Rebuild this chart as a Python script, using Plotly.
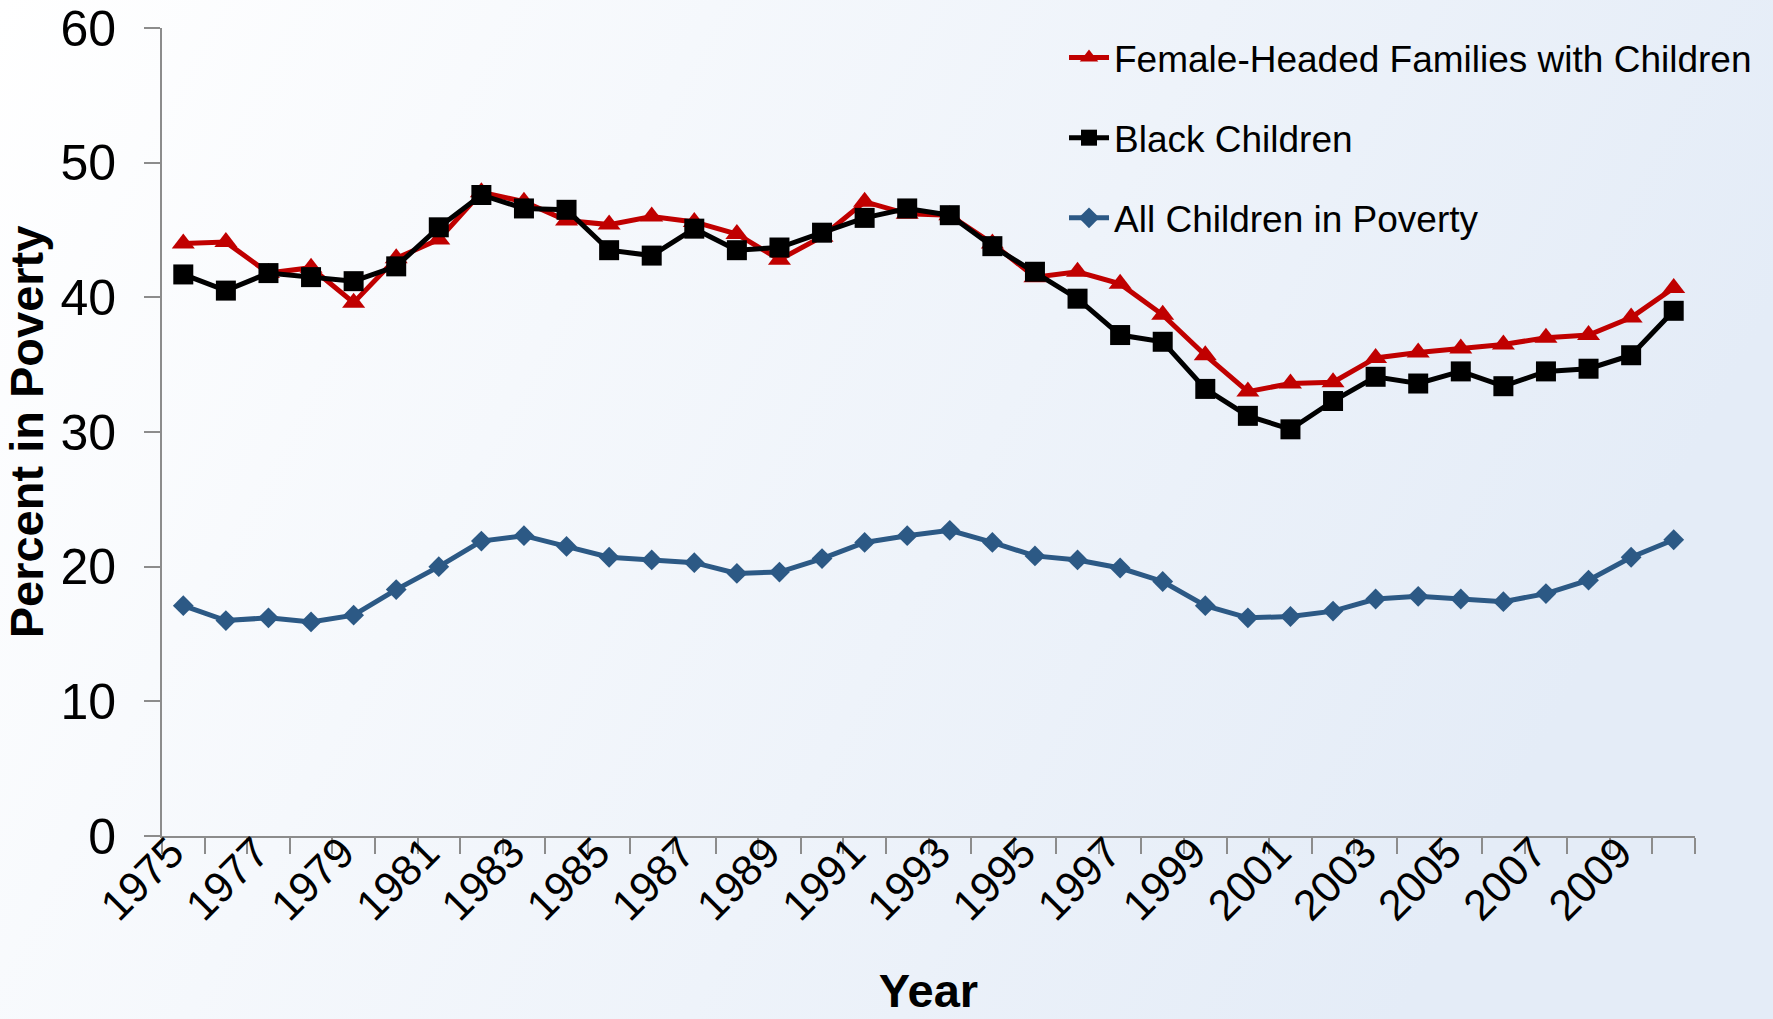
import base64
import plotly.graph_objects as go

# ---- data ----
years = list(range(1975, 2011))
female_headed = [44.0, 44.1, 41.8, 42.2, 39.6, 42.9, 44.3, 47.8, 47.1, 45.7, 45.4, 46.0,
                 45.6, 44.7, 42.8, 44.5, 47.1, 46.2, 46.1, 44.0, 41.5, 41.9, 41.0, 38.7,
                 35.7, 33.0, 33.6, 33.7, 35.5, 35.9, 36.2, 36.5, 37.0, 37.2, 38.5, 40.7]
black_children = [41.7, 40.5, 41.8, 41.5, 41.2, 42.3, 45.2, 47.6, 46.6, 46.5, 43.5, 43.1,
                  45.1, 43.5, 43.7, 44.8, 45.9, 46.6, 46.1, 43.8, 41.9, 39.9, 37.2, 36.7,
                  33.2, 31.2, 30.2, 32.3, 34.1, 33.6, 34.5, 33.4, 34.5, 34.7, 35.7, 39.0]
all_children = [17.1, 16.0, 16.2, 15.9, 16.4, 18.3, 20.0, 21.9, 22.3, 21.5, 20.7, 20.5,
                20.3, 19.5, 19.6, 20.6, 21.8, 22.3, 22.7, 21.8, 20.8, 20.5, 19.9, 18.9,
                17.1, 16.2, 16.3, 16.7, 17.6, 17.8, 17.6, 17.4, 18.0, 19.0, 20.7, 22.0]
tick_years = list(range(1975, 2010, 2))
tick_labels = [str(y) for y in tick_years]

W, H = 1773, 1019
ML, MR, MT, MB = 162, 78, 28, 183
PW, PH = W - ML - MR, H - MT - MB

FONT = "Arial, 'Liberation Sans', sans-serif"

fig = go.Figure()
fig.add_trace(go.Scatter(
    x=years, y=female_headed, mode="lines+markers",
    name="Female-Headed Families with Children", legendgroup="a",
    line=dict(color="#C00000", width=5),
    marker=dict(symbol="triangle-up", size=20, color="#C00000"),
))
fig.add_trace(go.Scatter(
    x=years, y=black_children, mode="lines+markers",
    name="Black Children", legendgroup="b",
    line=dict(color="#000000", width=5),
    marker=dict(symbol="square", size=20, color="#000000"),
))
fig.add_trace(go.Scatter(
    x=years, y=all_children, mode="lines+markers",
    name="All Children in Poverty", legendgroup="c",
    line=dict(color="#2C5985", width=5),
    marker=dict(symbol="diamond", size=16, color="#2C5985"),
))

svg = ("<svg xmlns='http://www.w3.org/2000/svg' width='100' height='100' preserveAspectRatio='none'>"
       "<defs><linearGradient id='g' x1='0' y1='0' x2='1' y2='0.3'>"
       "<stop offset='0' stop-color='#FFFFFF'/><stop offset='1' stop-color='#E4ECF7'/>"
       "</linearGradient></defs><rect width='100' height='100' fill='url(#g)'/></svg>")
src = "data:image/svg+xml;base64," + base64.b64encode(svg.encode()).decode()

fig.update_layout(
    width=W, height=H,
    margin=dict(l=ML, r=MR, t=MT, b=MB, autoexpand=False),
    paper_bgcolor="#FFFFFF",
    plot_bgcolor="rgba(0,0,0,0)",
    font=dict(family=FONT, color="#000000"),
    images=[dict(source=src, xref="paper", yref="paper",
                 x=-ML / PW, y=1 + MT / PH, sizex=W / PW, sizey=H / PH,
                 xanchor="left", yanchor="top", sizing="stretch", layer="below")],
    showlegend=True,
    legend=dict(x=0.5884, y=1.0012, xanchor="left", yanchor="top",
                bgcolor="rgba(0,0,0,0)", font=dict(size=37, family=FONT),
                tracegroupgap=29, traceorder="grouped", itemwidth=40),
    xaxis=dict(
        range=[1974.5, 2010.5], tickmode="array", tickvals=tick_years, ticktext=tick_labels,
        tickangle=-45, ticks="", showgrid=False, zeroline=False, automargin=False,
        showline=True, linecolor="#8C8C8C", linewidth=2,
        tickfont=dict(size=43, family=FONT), ticklabeloverflow="allow",
        ticklabelstandoff=-28, ticklabelshift=-12,
        minor=dict(tick0=0.5, dtick=1, ticks="outside", ticklen=16, tickwidth=1.5,
                   tickcolor="#8C8C8C", showgrid=False),
        title=dict(text="<b>Year</b>", font=dict(size=47, family=FONT), standoff=46),
    ),
    yaxis=dict(
        range=[0, 60], dtick=10, ticks="outside", ticklen=16, tickwidth=1.5,
        tickcolor="#8C8C8C", showgrid=False, zeroline=False, automargin=False,
        showline=True, linecolor="#8C8C8C", linewidth=2,
        tickfont=dict(size=50, family=FONT), ticklabelstandoff=18,
        ticklabeloverflow="allow",
        title=dict(text="<b>Percent in Poverty</b>", font=dict(size=47, family=FONT), standoff=8),
    ),
)

fig.write_html("out.html", config={"displayModeBar": False},
               post_script="document.body.style.margin='0px';")
